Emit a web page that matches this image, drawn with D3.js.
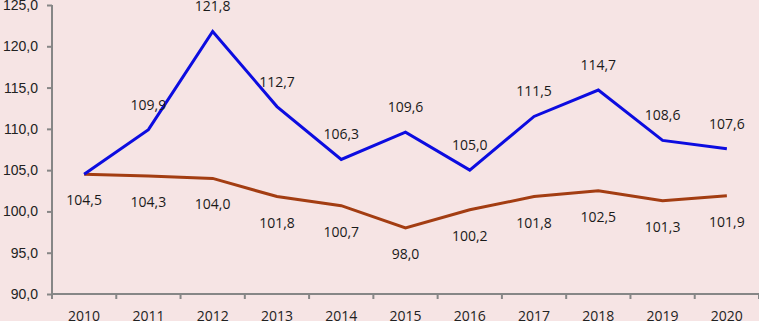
<!DOCTYPE html>
<html>
<head>
<meta charset="utf-8">
<script src="https://cdn.jsdelivr.net/npm/d3@7"></script>
<style>
  html, body { margin: 0; padding: 0; background: #f6e4e4; }
  svg { display: block; font-family: 'Open Sans', sans-serif; }
  .axis text { font-size: 14px; fill: #222; }
  .axis path, .axis line { stroke: #868686; stroke-width: 2px; }
  .label { font-size: 14px; fill: #1a1a1a; text-anchor: middle; }
</style>
</head>
<body>
<svg width="759" height="321"></svg>
<script>
const years = ['2010', '2011', '2012', '2013', '2014', '2015', '2016', '2017', '2018', '2019', '2020'];
const blueValues = [104.5, 109.9, 121.8, 112.7, 106.3, 109.6, 105.0, 111.5, 114.7, 108.6, 107.6];
const brownValues = [104.5, 104.3, 104.0, 101.8, 100.7, 98.0, 100.2, 101.8, 102.5, 101.3, 101.9];
const yTicks = [90, 95, 100, 105, 110, 115, 120, 125];

const svg = d3.select('svg');
const width = +svg.attr('width');
const height = +svg.attr('height');

const margin = { top: 5, bottom: 27, left: 52, right: 0 };
const innerWidth = width - margin.left - margin.right;
const innerHeight = height - margin.top - margin.bottom;

const fmt = v => d3.format('.1f')(v).replace('.', ',');

const root = svg.append('g')
  .attr('transform', `translate(${margin.left}, ${margin.top})`);

const xScale = d3.scaleBand()
  .domain(years)
  .range([0, innerWidth]);

const yScale = d3.scaleLinear()
  .domain([90, 125])
  .range([innerHeight, 0]);

const xCenter = d => xScale(d) + xScale.bandwidth() / 2;

// y axis
const yAxis = d3.axisLeft(yScale)
  .tickValues(yTicks)
  .tickFormat(fmt)
  .tickSize(5)
  .tickPadding(9);
const yAxisGroup = root.append('g').attr('class', 'axis').call(yAxis);
yAxisGroup.select('.domain').attr('d', `M0,${innerHeight}V0`);

// x axis, ticks between categories
const xAxisGroup = root.append('g')
  .attr('class', 'axis')
  .attr('transform', `translate(0, ${innerHeight})`);
xAxisGroup.append('line')
  .attr('x1', 0).attr('x2', innerWidth);
xAxisGroup.selectAll('.tick-mark')
  .data(years.concat(['end']))
  .enter().append('line')
    .attr('class', 'tick-mark')
    .attr('x1', (d, i) => i * xScale.bandwidth())
    .attr('x2', (d, i) => i * xScale.bandwidth())
    .attr('y1', 0).attr('y2', 5);
xAxisGroup.selectAll('text')
  .data(years)
  .enter().append('text')
    .attr('x', xCenter)
    .attr('y', 27)
    .attr('text-anchor', 'middle')
    .text(d => d);

const line = d3.line()
  .x((d, i) => xCenter(years[i]))
  .y(d => yScale(d));

const series = [
  { values: brownValues, color: '#a33d12', dy: 31, skipFirst: false },
  { values: blueValues, color: '#0c0ce0', dy: -20, skipFirst: true }
];

series.forEach(s => {
  root.append('path')
    .datum(s.values)
    .attr('fill', 'none')
    .attr('stroke', s.color)
    .attr('stroke-width', 3)
    .attr('d', line);
});

// labels: blue above (first point is shared with brown), brown below
series.forEach(s => {
  const pts = s.values
    .map((v, i) => ({ year: years[i], v }))
    .filter((d, i) => !(s.skipFirst && i === 0));
  root.selectAll(null)
    .data(pts)
    .enter().append('text')
      .attr('class', 'label')
      .attr('x', d => xCenter(d.year))
      .attr('y', d => yScale(d.v) + s.dy)
      .text(d => fmt(d.v));
});
</script>
</body>
</html>
